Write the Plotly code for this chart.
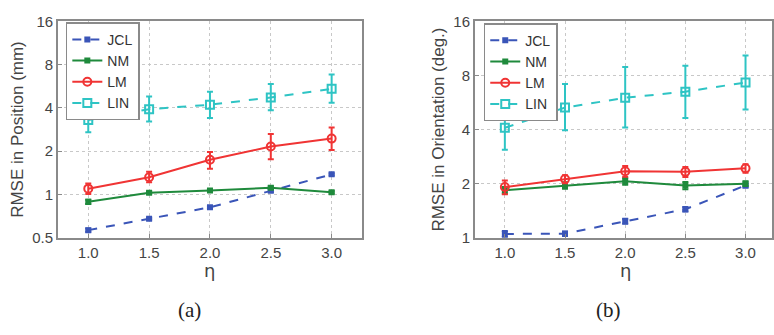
import plotly.graph_objects as go

eta = [1.0, 1.5, 2.0, 2.5, 3.0]
series_names = ["JCL", "NM", "LM", "LIN"]

# (a) RMSE in position (mm)
pos_jcl = [0.565, 0.678, 0.814, 1.06, 1.38]
pos_jcl_err = [0.015, 0.012, 0.015, 0.02, 0.025]
pos_nm = [0.89, 1.028, 1.065, 1.115, 1.038]
pos_nm_err = [0.03, 0.02, 0.02, 0.025, 0.02]
pos_lm = [1.098, 1.318, 1.742, 2.156, 2.447]
pos_lm_up = [0.093, 0.119, 0.236, 0.474, 0.473]
pos_lm_dn = [0.091, 0.103, 0.232, 0.396, 0.407]
pos_lin = [3.29, 3.92, 4.21, 4.73, 5.43]
pos_lin_up = [0.67, 0.89, 0.98, 1.13, 1.39]
pos_lin_dn = [0.58, 0.70, 0.81, 0.87, 1.09]

# (b) RMSE in orientation (deg.)
ori_jcl = [1.05, 1.054, 1.235, 1.441, 1.954]
ori_jcl_err = [0.04, 0.03, 0.04, 0.04, 0.05]
ori_nm = [1.839, 1.954, 2.06, 1.954, 2.0]
ori_nm_err = [0.08, 0.08, 0.09, 0.09, 0.06]
ori_lm = [1.915, 2.12, 2.346, 2.327, 2.433]
ori_lm_err = [0.17, 0.11, 0.16, 0.15, 0.13]
ori_lin = [4.09, 5.30, 6.01, 6.50, 7.31]
ori_lin_up = [1.48, 1.86, 2.91, 2.56, 3.01]
ori_lin_dn = [1.0, 1.34, 1.90, 1.86, 2.13]

x_ticks = [1.0, 1.5, 2.0, 2.5, 3.0]
x_ticktext = ["1.0", "1.5", "2.0", "2.5", "3.0"]
pos_yticks = [0.5, 1, 2, 4, 8, 16]
ori_yticks = [1, 2, 4, 8, 16]

colors = {"JCL": "#3a55b8", "NM": "#1f8a3c", "LM": "#f03434", "LIN": "#2ec4c4"}
dash = {"JCL": "dash", "NM": "solid", "LM": "solid", "LIN": "dash"}
sym = {"JCL": "square", "NM": "square", "LM": "circle-open", "LIN": "square-open"}
msize = {"JCL": 4, "NM": 4, "LM": 8, "LIN": 8}

fig = go.Figure()

def add(name, y, up, dn, xa, ya, legend):
    fig.add_trace(go.Scatter(
        x=eta, y=y, name=name, mode="lines+markers",
        line=dict(color=colors[name], dash=dash[name], width=2),
        marker=dict(symbol=sym[name], size=msize[name], color=colors[name],
                    line=dict(width=2, color=colors[name])),
        error_y=dict(type="data", array=up, arrayminus=dn, symmetric=False,
                     color=colors[name], thickness=2, width=3),
        xaxis=xa, yaxis=ya, legend=legend, showlegend=True))

add("JCL", pos_jcl, pos_jcl_err, pos_jcl_err, "x", "y", "legend")
add("NM", pos_nm, pos_nm_err, pos_nm_err, "x", "y", "legend")
add("LM", pos_lm, pos_lm_up, pos_lm_dn, "x", "y", "legend")
add("LIN", pos_lin, pos_lin_up, pos_lin_dn, "x", "y", "legend")

add("JCL", ori_jcl, ori_jcl_err, ori_jcl_err, "x2", "y2", "legend2")
add("NM", ori_nm, ori_nm_err, ori_nm_err, "x2", "y2", "legend2")
add("LM", ori_lm, ori_lm_err, ori_lm_err, "x2", "y2", "legend2")
add("LIN", ori_lin, ori_lin_up, ori_lin_dn, "x2", "y2", "legend2")

W, H = 774, 335
def px(x):
    return x / W
def py(y):
    return 1 - y / H

sans = "Liberation Sans, Arial, sans-serif"
tickfont = dict(family=sans, size=15, color="#444")
axis_common = dict(showline=True, linecolor="#8a8a8a", linewidth=1.5, mirror=True,
                   ticks="inside", ticklen=4, tickcolor="#8a8a8a",
                   showgrid=True, gridcolor="#c8c8c8", griddash="dot", gridwidth=1,
                   zeroline=False, tickfont=tickfont, ticklabeloverflow="allow")

y_dom = [py(241), py(13)]
legend_common = dict(xanchor="left", yanchor="top", bgcolor="white",
                     bordercolor="#8a8a8a", borderwidth=1.5,
                     font=dict(family=sans, size=14, color="#333"),
                     tracegroupgap=0, itemwidth=30)

fig.update_layout(
    width=W, height=H,
    margin=dict(l=0, r=0, t=0, b=0),
    paper_bgcolor="white", plot_bgcolor="white",
    hovermode=False,
    xaxis=dict(domain=[px(58), px(363)], range=[0.75, 3.25], anchor="y",
               tickvals=x_ticks, ticktext=x_ticktext, **axis_common),
    yaxis=dict(domain=y_dom, type="log", range=[-0.30103, 1.20412], anchor="x",
               tickvals=pos_yticks, ticktext=["0.5", "1", "2", "4", "8", "16"],
               title=dict(text="RMSE in Position (mm)", standoff=4,
                          font=dict(family=sans, size=17, color="#444")),
               **axis_common),
    xaxis2=dict(domain=[px(476), 1.0], range=[0.75, 3.22], anchor="y2",
                tickvals=x_ticks, ticktext=x_ticktext, **axis_common),
    yaxis2=dict(domain=y_dom, type="log", range=[0, 1.20412], anchor="x2",
                tickvals=ori_yticks, ticktext=["1", "2", "4", "8", "16"],
                title=dict(text="RMSE in Orientation (deg.)", standoff=4,
                           font=dict(family=sans, size=17, color="#444")),
                **axis_common),
    legend=dict(x=px(66), y=py(14), **legend_common),
    legend2=dict(x=px(485), y=py(15), **legend_common),
    annotations=[
        dict(text="η", x=px(210), y=py(276), xref="paper", yref="paper",
             xanchor="center", yanchor="middle",
             showarrow=False, font=dict(family="DejaVu Sans, sans-serif", size=18, color="#444")),
        dict(text="η", x=px(627), y=py(276), xref="paper", yref="paper",
             xanchor="center", yanchor="middle",
             showarrow=False, font=dict(family="DejaVu Sans, sans-serif", size=18, color="#444")),
        dict(text="(a)", x=px(190), y=py(317), xref="paper", yref="paper",
             xanchor="center", yanchor="middle",
             showarrow=False, font=dict(family="Liberation Serif, Times New Roman, serif", size=21, color="#222")),
        dict(text="(b)", x=px(610), y=py(317), xref="paper", yref="paper",
             xanchor="center", yanchor="middle",
             showarrow=False, font=dict(family="Liberation Serif, Times New Roman, serif", size=21, color="#222")),
    ],
)

fig.write_html("out.html", config={"displayModeBar": False},
               post_script="document.body.style.margin='0';")
